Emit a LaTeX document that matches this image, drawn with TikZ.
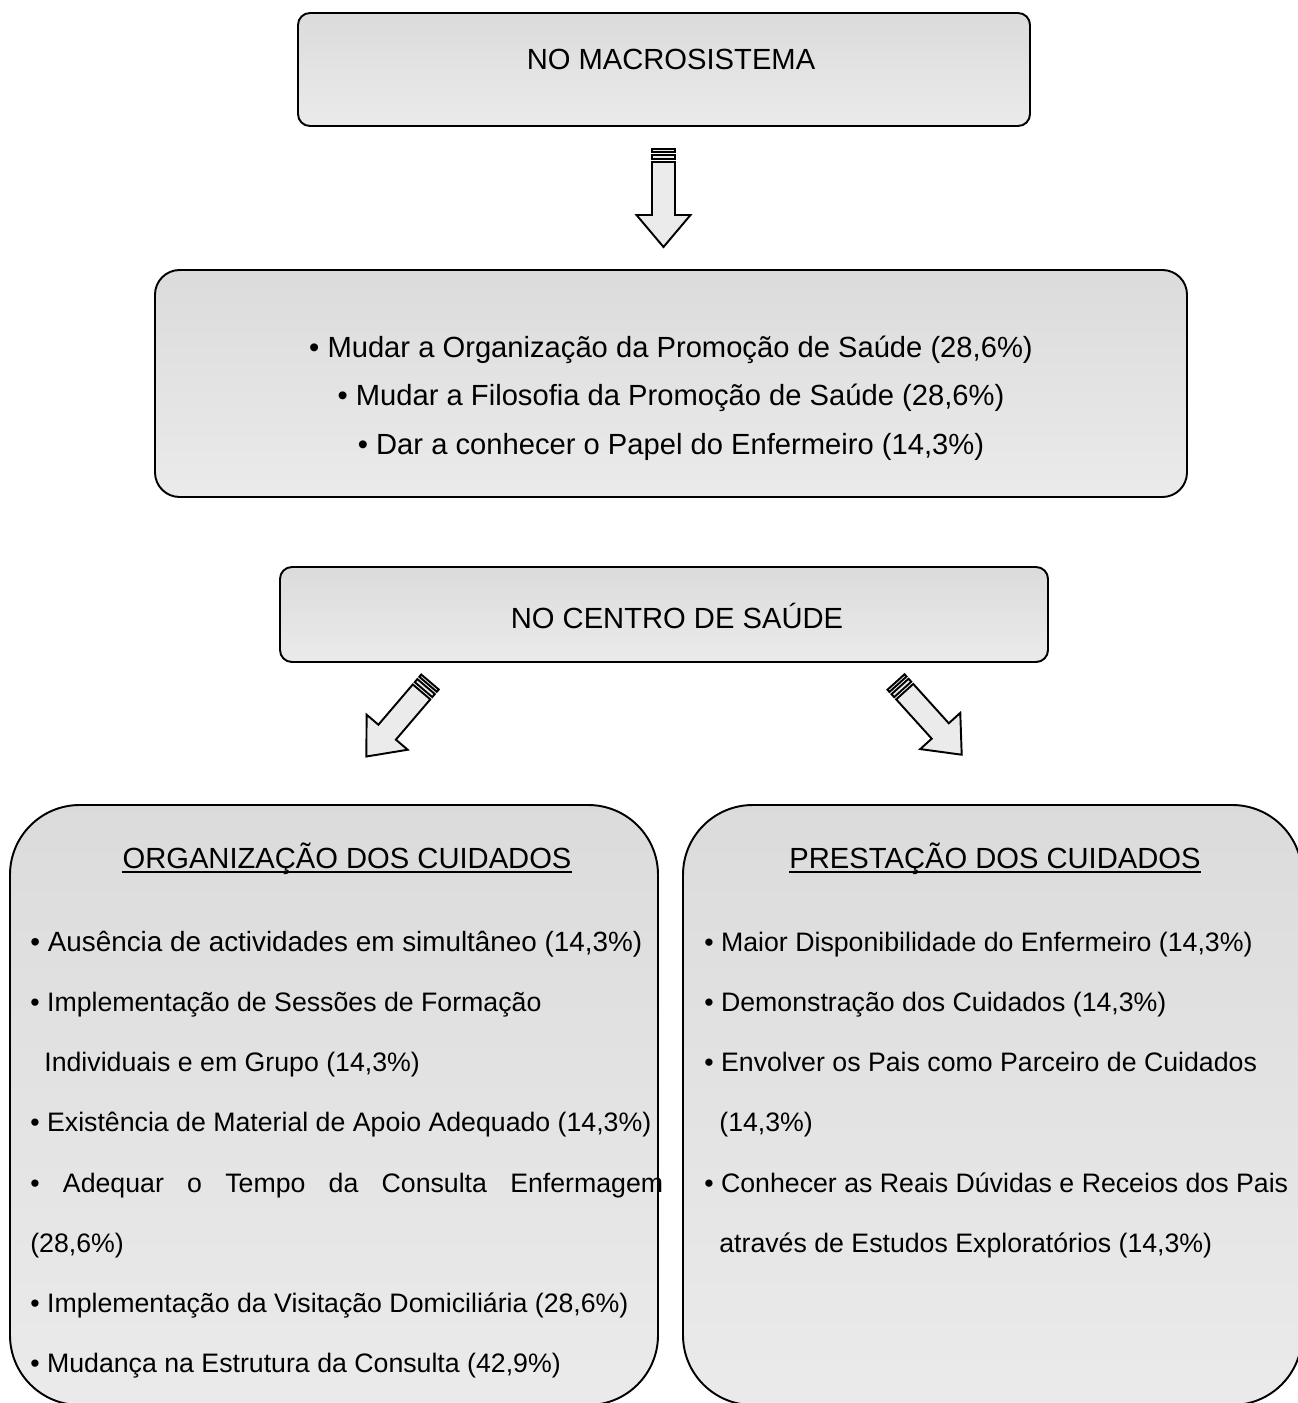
\documentclass[tikz,border=0pt]{standalone}
\usepackage{fontspec}
\setmainfont{Liberation Sans}
\usetikzlibrary{calc}

\tikzset{
  pbox/.style={draw, line width=1.1pt, top color=black!14, bottom color=black!8},
  ptext/.style={font=\fontsize{16.6}{20}\selectfont, inner sep=0pt, anchor=base},
  plist/.style={font=\fontsize{15.2}{18}\selectfont, inner sep=0pt, anchor=base west},
  uline/.style={line width=1.1pt},
  arrowline/.style={draw, line width=1.1pt, fill=black!8, line join=miter},
  stripedarrow/.pic={
    \path[arrowline] (0,-11.5) rectangle (3,11.5);
    \path[arrowline] (6,-11.5) rectangle (10,11.5);
    \path[arrowline] (13,-11.5) -- (66,-11.5) -- (66,-27) -- (98,0)
      -- (66,27) -- (66,11.5) -- (13,11.5) -- cycle;
  }
}

\begin{document}
\begin{tikzpicture}[x=0.02cm, y=-0.02cm]
  \useasboundingbox (0,0) rectangle (1298,1403);
  \clip (0,0) rectangle (1298,1403);

  % boxes
  \path[pbox, rounded corners=6.8pt] (298,13) rectangle (1030,126);
  \path[pbox, rounded corners=14pt] (155,270) rectangle (1187,497);
  \path[pbox, rounded corners=6.8pt] (280,567) rectangle (1048,662);
  \path[pbox, rounded corners=39.7pt] (10,805) rectangle (658,1405);
  \path[pbox, rounded corners=39.7pt] (683,805) rectangle (1302,1405);

  % arrows
  \pic[rotate=-90] at (663.5,149) {stripedarrow};
  \pic[rotate=-130.5] at (430,682) {stripedarrow};
  \pic[rotate=-47.9] at (896,682) {stripedarrow};

  % texts
  \node[ptext] (macro) at (671,69) {NO MACROSISTEMA};
  \node[ptext] (b1) at (671,357) {• Mudar a Organização da Promoção de Saúde (28,6\%)};
  \node[ptext] (b2) at (671,405) {• Mudar a Filosofia da Promoção de Saúde (28,6\%)};
  \node[ptext] (b3) at (671,454) {• Dar a conhecer o Papel do Enfermeiro (14,3\%)};
  \node[ptext] (centro) at (677,628) {NO CENTRO DE SAÚDE};

  \node[ptext] (org) at (347,868) {ORGANIZAÇÃO DOS CUIDADOS};
  \draw[uline] ([yshift=-2.5pt]org.base west) -- ([yshift=-2.5pt]org.base east);
  \node[ptext] (pre) at (995,868) {PRESTAÇÃO DOS CUIDADOS};
  \draw[uline] ([yshift=-2.5pt]pre.base west) -- ([yshift=-2.5pt]pre.base east);

  \node[plist, font=\fontsize{15.85}{18}\selectfont] (o1) at (30,951) {• Ausência de actividades em simultâneo (14,3\%)};
  \node[plist] (o2) at (30,1011) {• Implementação de Sessões de Formação};
  \node[plist] (o3) at (44,1071.5) {Individuais e em Grupo (14,3\%)};
  \node[plist] (o4) at (30,1131.5) {• Existência de Material de Apoio Adequado (14,3\%)};
  \node[plist] (o5) at (30,1192) {\makebox[12.66cm][s]{• Adequar o Tempo da Consulta Enfermagem}};
  \node[plist] (o6) at (30,1252) {(28,6\%)};
  \node[plist] (o7) at (30,1312) {• Implementação da Visitação Domiciliária (28,6\%)};
  \node[plist] (o8) at (30,1372) {• Mudança na Estrutura da Consulta (42,9\%)};

  \node[plist] (p1) at (704,951) {• Maior Disponibilidade do Enfermeiro (14,3\%)};
  \node[plist] (p2) at (704,1011) {• Demonstração dos Cuidados (14,3\%)};
  \node[plist] (p3) at (704,1071.5) {• Envolver os Pais como Parceiro de Cuidados};
  \node[plist] (p4) at (719,1131.5) {(14,3\%)};
  \node[plist] (p5) at (704,1192) {• Conhecer as Reais Dúvidas e Receios dos Pais};
  \node[plist] (p6) at (719,1252) {através de Estudos Exploratórios (14,3\%)};
\end{tikzpicture}
\end{document}
